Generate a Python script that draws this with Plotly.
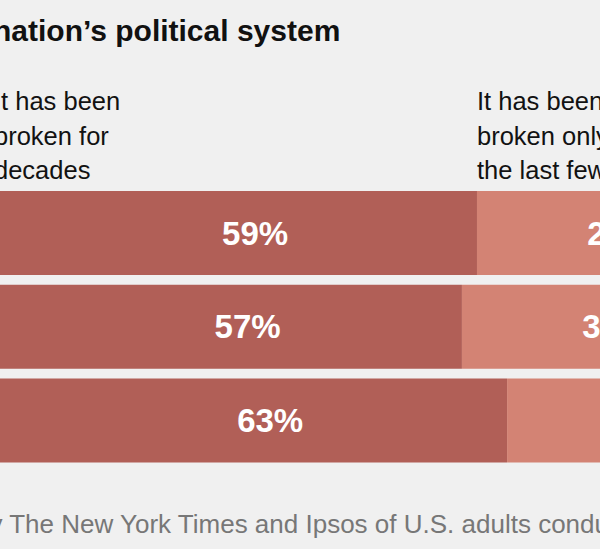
import plotly.graph_objects as go

# rows of the stacked bar (row names are cut off in the source crop)
rows = [0, 1, 2]
broken_for_decades = [59, 57, 63]
broken_recently = [28, 30, 27]

title_text = "nation\u2019s political system"
left_header = ["It has been", "broken for", "decades"]
right_header = ["It has been", "broken only in", "the last few years"]
source_text = "by The New York Times and Ipsos of U.S. adults conducted"

DARK = "#b15f57"
LIGHT = "#d38374"
BG = "#f0f0f0"
FONT = "Liberation Sans, Arial, sans-serif"

W, H = 600, 549
LABEL_NUDGE = 0.035  # text traces sit a few px high, push them down

fig = go.Figure()

# dark segment runs off the left edge of the crop
fig.add_trace(go.Bar(
    y=rows, x=[v + 10 for v in broken_for_decades], base=-10,
    orientation="h", marker=dict(color=DARK, line=dict(width=0)),
    width=0.896, hoverinfo="skip", showlegend=False))

fig.add_trace(go.Bar(
    y=rows, x=broken_recently, base=broken_for_decades,
    orientation="h", marker=dict(color=LIGHT, line=dict(width=0)),
    width=0.896, hoverinfo="skip", showlegend=False))

# value labels as text traces so the ones running past the edge still draw
fig.add_trace(go.Scatter(
    x=[a / 2 for a in broken_for_decades], y=[r + LABEL_NUDGE for r in rows],
    mode="text", text=[f"<b>{a}%</b>" for a in broken_for_decades],
    textposition="middle center",
    textfont=dict(family=FONT, size=33, color="white"),
    hoverinfo="skip", showlegend=False))
fig.add_trace(go.Scatter(
    x=[a + b * 0.68 for a, b in zip(broken_for_decades, broken_recently)],
    y=[r + LABEL_NUDGE for r in rows],
    mode="text", text=[f"<b>{b}%</b>" for b in broken_recently],
    textposition="middle center",
    textfont=dict(family=FONT, size=33, color="white"),
    hoverinfo="skip", showlegend=False))

annotations = []

# title, cut at the left
annotations.append(dict(x=342 / W, y=1 - 31 / H, xref="paper", yref="paper",
                        xanchor="right", yanchor="middle", showarrow=False,
                        text=f"<b>{title_text}</b>",
                        font=dict(family=FONT, size=30, color="#111111")))

# column headers, one line each
line_y = [101, 135.5, 170]
for txt, ly in zip(left_header, line_y):
    annotations.append(dict(x=-8 / W, y=1 - ly / H, xref="paper", yref="paper",
                            xanchor="left", yanchor="middle", showarrow=False, text=txt,
                            font=dict(family=FONT, size=25.5, color="#121212")))
for txt, ly in zip(right_header, line_y):
    annotations.append(dict(x=475 / W, y=1 - ly / H, xref="paper", yref="paper",
                            xanchor="left", yanchor="middle", showarrow=False, text=txt,
                            font=dict(family=FONT, size=25.5, color="#121212")))

annotations.append(dict(x=-27 / W, y=1 - 524 / H, xref="paper", yref="paper",
                        xanchor="left", yanchor="middle", showarrow=False, text=source_text,
                        font=dict(family=FONT, size=26, color="#777777")))

fig.update_layout(
    width=W, height=H,
    margin=dict(l=0, r=0, t=0, b=0),
    paper_bgcolor=BG, plot_bgcolor=BG,
    barmode="overlay",
    annotations=annotations,
    xaxis=dict(range=[-33.3 / 7.52, (W - 33.3) / 7.52], visible=False, fixedrange=True),
    yaxis=dict(range=[(H - 233) / 93.75, -233 / 93.75], visible=False, fixedrange=True),
)

# page body margin would push the figure 8px down/right
fig.write_html("out.html", config={"displayModeBar": False},
               post_script="document.body.style.margin='0';")
